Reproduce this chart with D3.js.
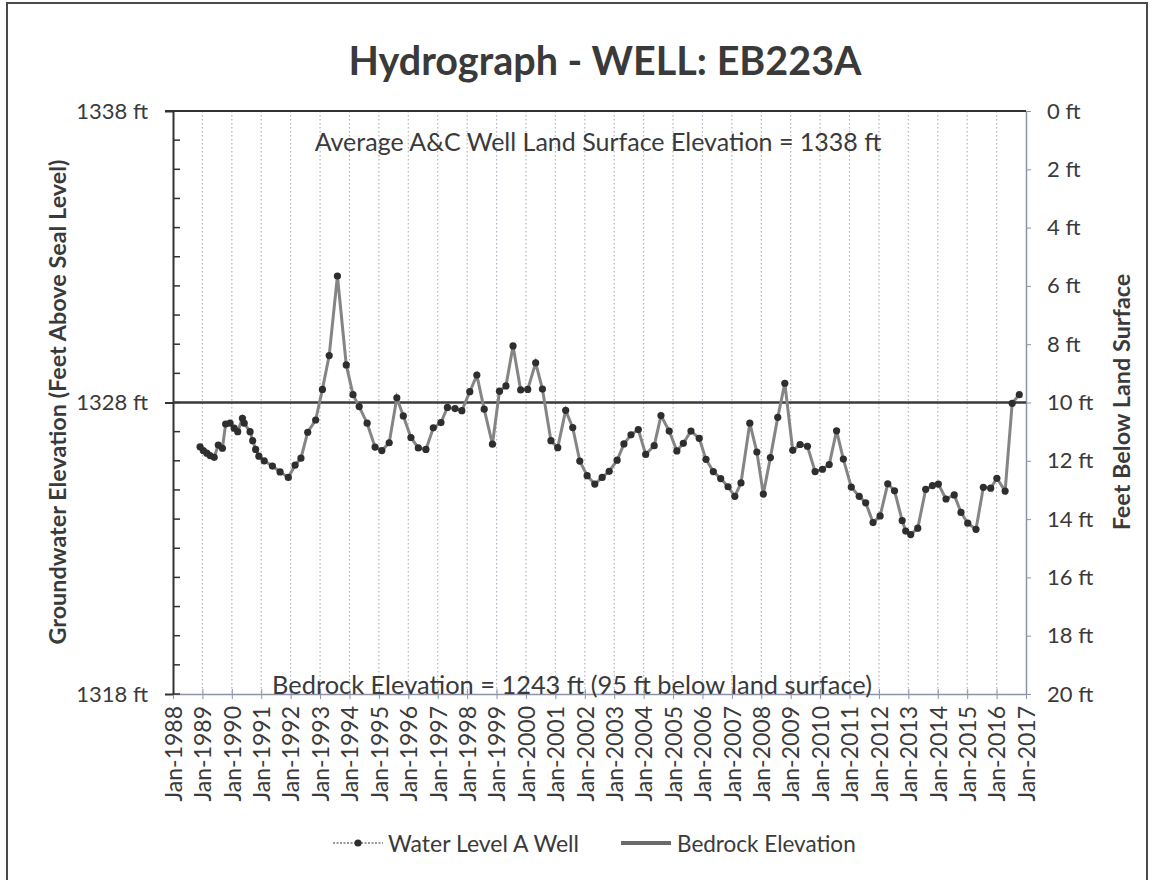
<!DOCTYPE html>
<html lang="en">
<head>
<meta charset="UTF-8">
<title>Hydrograph - WELL: EB223A</title>
<script src="https://d3js.org/d3.v7.min.js"></script>
<style>
    body { margin: 0; background: #fff; }
    text { font-family: Lato, "Open Sans", sans-serif; fill: #3a3a3a; }
</style>
</head>
<body>
<svg id="chart" width="1156" height="880"></svg>
<script>
    // water level readings, decimal year / elevation (ft)
    let waterYears = [
        1988.92, 1989.03, 1989.15, 1989.26, 1989.40, 1989.54, 1989.68, 1989.79, 1989.94, 1990.08,
        1990.20, 1990.36, 1990.42, 1990.62, 1990.71, 1990.81, 1990.92, 1991.10, 1991.38, 1991.64,
        1991.92, 1992.15, 1992.35, 1992.58, 1992.85, 1993.08, 1993.31, 1993.59, 1993.89, 1994.12,
        1994.33, 1994.60, 1994.87, 1995.10, 1995.35, 1995.61, 1995.83, 1996.09, 1996.34, 1996.60,
        1996.85, 1997.11, 1997.33, 1997.59, 1997.82, 1998.09, 1998.33, 1998.58, 1998.86, 1999.10,
        1999.32, 1999.56, 1999.82, 2000.06, 2000.33, 2000.56, 2000.85, 2001.08, 2001.35, 2001.59,
        2001.83, 2002.08, 2002.34, 2002.59, 2002.83, 2003.10, 2003.33, 2003.57, 2003.82, 2004.07,
        2004.36, 2004.59, 2004.87, 2005.13, 2005.35, 2005.61, 2005.89, 2006.12, 2006.37, 2006.62,
        2006.87, 2007.10, 2007.31, 2007.61, 2007.85, 2008.07, 2008.31, 2008.56, 2008.80, 2009.07,
        2009.32, 2009.57, 2009.83, 2010.08, 2010.31, 2010.56, 2010.79, 2011.06, 2011.33, 2011.55,
        2011.80, 2012.04, 2012.30, 2012.53, 2012.79, 2012.91, 2013.08, 2013.32, 2013.59, 2013.82,
        2014.02, 2014.28, 2014.56, 2014.79, 2015.02, 2015.30, 2015.55, 2015.80, 2016.01, 2016.29,
        2016.53, 2016.77
    ];
    let waterElev = [
        1326.48, 1326.35, 1326.26, 1326.18, 1326.12, 1326.54, 1326.43, 1327.26, 1327.29, 1327.12,
        1327.00, 1327.46, 1327.29, 1327.00, 1326.69, 1326.39, 1326.16, 1326.00, 1325.82, 1325.62,
        1325.43, 1325.85, 1326.09, 1326.98, 1327.40, 1328.45, 1329.61, 1332.34, 1329.29, 1328.27,
        1327.86, 1327.29, 1326.47, 1326.35, 1326.62, 1328.16, 1327.54, 1326.80, 1326.44, 1326.39,
        1327.13, 1327.31, 1327.83, 1327.79, 1327.72, 1328.37, 1328.94, 1327.77, 1326.57, 1328.39,
        1328.57, 1329.94, 1328.43, 1328.45, 1329.36, 1328.46, 1326.69, 1326.45, 1327.73, 1327.14,
        1325.99, 1325.49, 1325.20, 1325.43, 1325.64, 1326.02, 1326.58, 1326.89, 1327.07, 1326.22,
        1326.52, 1327.55, 1327.02, 1326.34, 1326.60, 1327.02, 1326.77, 1326.05, 1325.63, 1325.39,
        1325.11, 1324.78, 1325.24, 1327.29, 1326.30, 1324.86, 1326.11, 1327.49, 1328.66, 1326.36,
        1326.56, 1326.50, 1325.63, 1325.71, 1325.87, 1327.03, 1326.06, 1325.10, 1324.78, 1324.56,
        1323.88, 1324.11, 1325.21, 1324.97, 1323.95, 1323.59, 1323.47, 1323.69, 1325.02, 1325.15,
        1325.20, 1324.69, 1324.83, 1324.23, 1323.86, 1323.65, 1325.09, 1325.06, 1325.40, 1324.96,
        1327.97, 1328.27
    ];
    // reference line drawn across the plot
    let bedrockYears = [1988, 2017];
    let bedrockElev = [1328, 1328];

    let xYears = d3.range(1988, 2018);
    let leftTicks = [1318, 1328, 1338];
    let leftMinor = d3.range(1318, 1339);
    let rightTicks = d3.range(0, 21, 2);

    let titleText = "Hydrograph - WELL: EB223A";
    let topNote = "Average A&C Well Land Surface Elevation = 1338 ft";
    let bottomNote = "Bedrock Elevation = 1243 ft (95 ft below land surface)";

    const svg = d3.select("#chart");
    const plotL = 173, plotR = 1026, plotT = 111, plotB = 694;

    // frame of the scanned page
    svg.append("rect").attr("x", 7).attr("y", 3).attr("width", 1140).attr("height", 900)
        .attr("fill", "none").attr("stroke", "#4a4a4a").attr("stroke-width", 2);

    let x = d3.scaleLinear().domain([1988, 2017]).range([plotL, plotR]);
    let yL = d3.scaleLinear().domain([1318, 1338]).range([plotB, plotT]);
    let yR = d3.scaleLinear().domain([0, 20]).range([plotT, plotB]);

    // year grid lines
    svg.append("g").selectAll("line").data(xYears.slice(1, -1)).join("line")
        .attr("x1", d => x(d)).attr("x2", d => x(d))
        .attr("y1", plotT).attr("y2", plotB)
        .attr("stroke", "#aeb3c8").attr("stroke-width", 1.2)
        .attr("stroke-dasharray", "1.5,2.5");

    // x axis
    let xAxis = svg.append("g").attr("transform", `translate(0,${plotB})`)
        .call(d3.axisBottom(x).tickValues(xYears).tickFormat(d => "Jan-" + d)
            .tickSizeInner(5).tickSizeOuter(0));
    xAxis.select(".domain").attr("stroke", "#8f93a8").attr("stroke-width", 1.5);
    xAxis.selectAll(".tick line").attr("stroke", "#8f93a8").attr("y1", -5).attr("y2", 5);
    xAxis.selectAll(".tick text")
        .attr("transform", "rotate(-90)")
        .attr("x", -12).attr("y", 0).attr("dy", "0.36em")
        .attr("text-anchor", "end")
        .style("font-size", "23px").style("font-family", "Lato, sans-serif").attr("fill", "#3a3a3a");

    // left axis
    let lAxis = svg.append("g").attr("transform", `translate(${plotL},0)`)
        .call(d3.axisLeft(yL).tickValues(leftTicks).tickFormat(d => d + " ft")
            .tickSizeInner(8).tickSizeOuter(0).tickPadding(17));
    lAxis.select(".domain").attr("stroke", "#333").attr("stroke-width", 2);
    lAxis.selectAll(".tick line").attr("stroke", "#333").attr("stroke-width", 2);
    lAxis.selectAll(".tick text").style("font-size", "22px")
        .style("font-family", "Lato, sans-serif").attr("fill", "#3a3a3a");
    svg.append("g").selectAll("line").data(leftMinor).join("line")
        .attr("x1", plotL).attr("x2", plotL + 7)
        .attr("y1", d => yL(d)).attr("y2", d => yL(d))
        .attr("stroke", "#333").attr("stroke-width", 1.5);

    // right axis
    let rAxis = svg.append("g").attr("transform", `translate(${plotR},0)`)
        .call(d3.axisRight(yR).tickValues(rightTicks).tickFormat(d => d + " ft")
            .tickSizeInner(5).tickSizeOuter(0).tickPadding(16));
    rAxis.select(".domain").attr("stroke", "#8f93a8").attr("stroke-width", 1.5);
    rAxis.selectAll(".tick line").attr("stroke", "#8f93a8");
    rAxis.selectAll(".tick text").style("font-size", "22px")
        .style("font-family", "Lato, sans-serif").attr("fill", "#3a3a3a");

    // top line at land surface
    svg.append("line").attr("x1", plotL - 8).attr("x2", plotR)
        .attr("y1", yL(1338)).attr("y2", yL(1338))
        .attr("stroke", "#333").attr("stroke-width", 2.2);

    // bedrock elevation series
    let bedrock = bedrockYears.map((d, i) => [d, bedrockElev[i]]);
    svg.append("path").datum(bedrock)
        .attr("d", d3.line().x(d => x(d[0])).y(d => yL(d[1])))
        .attr("stroke", "#3a3a3a").attr("stroke-width", 2.6).attr("fill", "none");

    // water level series
    let water = waterYears.map((d, i) => [d, waterElev[i]]);
    svg.append("path").datum(water)
        .attr("d", d3.line().x(d => x(d[0])).y(d => yL(d[1])))
        .attr("stroke", "#858585").attr("stroke-width", 3).attr("fill", "none");
    svg.append("g").selectAll("circle").data(water).join("circle")
        .attr("cx", d => x(d[0])).attr("cy", d => yL(d[1])).attr("r", 3.6)
        .attr("fill", "#2e2e2e");

    // title and notes
    svg.append("text").attr("x", 605).attr("y", 75).attr("text-anchor", "middle")
        .style("font-size", "39.5px").style("font-weight", "bold").text(titleText);
    svg.append("text").attr("x", 598).attr("y", 151).attr("text-anchor", "middle")
        .style("font-size", "25px").text(topNote);
    svg.append("text").attr("x", 572).attr("y", 694).attr("text-anchor", "middle")
        .style("font-size", "25.4px").text(bottomNote);

    // axis titles
    svg.append("text").attr("transform", "translate(66,402) rotate(-90)")
        .attr("text-anchor", "middle").style("font-size", "23.4px").style("font-weight", "bold")
        .text("Groundwater Elevation (Feet Above Seal Level)");
    svg.append("text").attr("transform", "translate(1130,402) rotate(-90)")
        .attr("text-anchor", "middle").style("font-size", "23.4px").style("font-weight", "bold")
        .text("Feet Below Land Surface");

    // legend
    let lg = svg.append("g");
    lg.append("line").attr("x1", 333).attr("x2", 383).attr("y1", 843).attr("y2", 843)
        .attr("stroke", "#9a9a9a").attr("stroke-width", 2).attr("stroke-dasharray", "2,1.5");
    lg.append("circle").attr("cx", 358).attr("cy", 843).attr("r", 3.6).attr("fill", "#2e2e2e");
    lg.append("text").attr("x", 388).attr("y", 852).style("font-size", "23px").text("Water Level A Well");
    lg.append("line").attr("x1", 621).attr("x2", 671).attr("y1", 843).attr("y2", 843)
        .attr("stroke", "#6a6a6a").attr("stroke-width", 4);
    lg.append("text").attr("x", 677).attr("y", 852).style("font-size", "22.5px").text("Bedrock Elevation");
</script>
</body>
</html>
